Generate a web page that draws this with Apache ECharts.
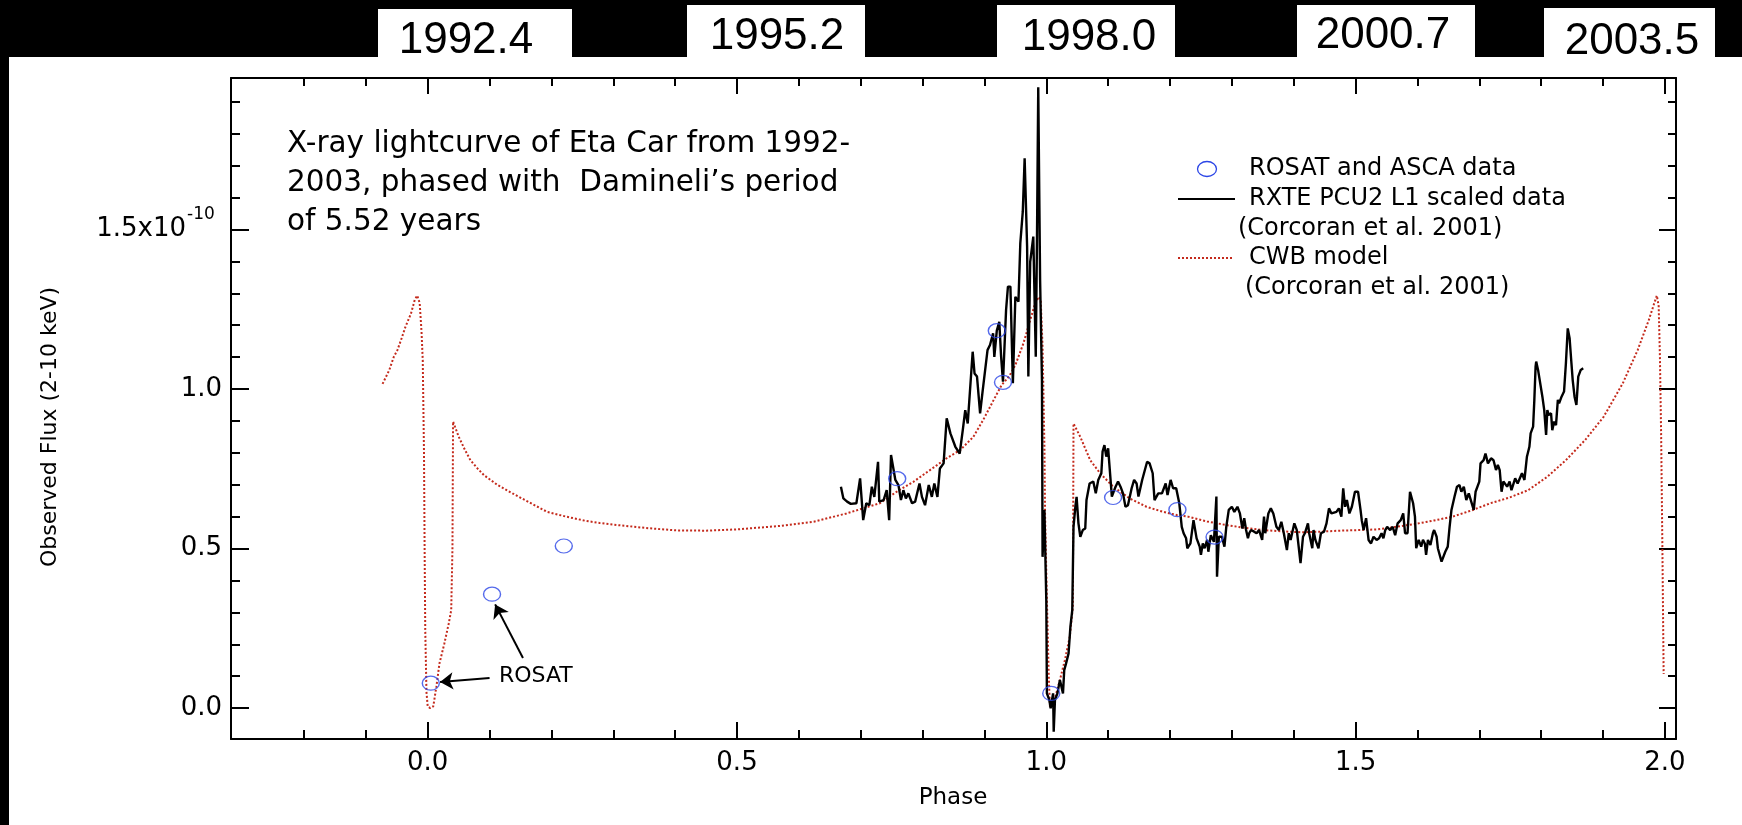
<!DOCTYPE html>
<html><head><meta charset="utf-8">
<script src="https://cdn.jsdelivr.net/npm/echarts@6/dist/echarts.min.js"></script>
<style>html,body{margin:0;padding:0;background:#fff}#c{width:1742px;height:825px}</style>
</head><body><div id="c"></div>
<script>
// ---------------- data ----------------
const xMajorTicks = [0.0, 0.5, 1.0, 1.5, 2.0];
const xMinorTicks = [-0.2,-0.1,0.1,0.2,0.3,0.4,0.6,0.7,0.8,0.9,1.1,1.2,1.3,1.4,1.6,1.7,1.8,1.9];
const yMajorTicks = [0.0, 0.5, 1.0, 1.5];
const yMinorTicks = [0.1,0.2,0.3,0.4,0.6,0.7,0.8,0.9,1.1,1.2,1.3,1.4,1.6,1.7,1.8,1.9];
const yearLabels = ['1992.4','1995.2','1998.0','2000.7','2003.5'];

// ROSAT and ASCA data  [phase, flux (1e-10)]
const rosatAsca = [[0.005,0.078],[0.104,0.357],[0.220,0.508],[0.759,0.719],[0.920,1.183],[0.930,1.021],[1.008,0.046],[1.108,0.660],[1.212,0.622],[1.272,0.536]];

// RXTE PCU2 L1 scaled data
const rxte = [
[0.668,0.694],[0.672,0.657],[0.678,0.647],[0.684,0.640],[0.693,0.642],[0.699,0.720],[0.704,0.589],[0.709,0.642],[0.714,0.636],[0.718,0.694],
[0.722,0.662],[0.728,0.772],[0.730,0.647],[0.737,0.652],[0.742,0.683],[0.746,0.589],[0.749,0.793],[0.756,0.715],[0.761,0.699],[0.765,0.652],
[0.769,0.683],[0.773,0.657],[0.777,0.673],[0.783,0.642],[0.788,0.647],[0.795,0.704],[0.799,0.662],[0.804,0.636],[0.810,0.699],[0.815,0.662],
[0.819,0.704],[0.824,0.662],[0.828,0.751],[0.834,0.767],[0.839,0.908],[0.845,0.861],[0.853,0.819],[0.860,0.798],[0.865,0.871],[0.869,0.934],
[0.873,0.892],[0.881,1.117],[0.884,1.049],[0.888,1.039],[0.893,0.924],[0.897,0.992],[0.905,1.122],[0.909,1.138],[0.914,1.175],[0.916,1.101],
[0.920,1.183],[0.924,1.211],[0.927,1.101],[0.930,1.023],[0.935,1.248],[0.938,1.321],[0.942,1.321],[0.946,1.018],[0.950,1.289],[0.955,1.274],
[0.958,1.457],[0.962,1.556],[0.965,1.723],[0.969,1.446],[0.971,1.039],[0.974,1.399],[0.979,1.478],[0.983,1.101],[0.985,1.478],[0.987,1.946],
[0.990,1.342],[0.993,1.030],[0.994,0.474],[0.997,0.621],[1.000,0.339],[1.001,0.046],[1.005,0.025],[1.007,-0.001],[1.011,0.046],[1.012,-0.074],
[1.014,0.025],[1.018,0.046],[1.022,0.088],[1.027,0.046],[1.029,0.119],[1.032,0.140],[1.036,0.171],[1.039,0.255],[1.042,0.307],[1.044,0.568],
[1.047,0.631],[1.049,0.662],[1.052,0.579],[1.055,0.537],[1.059,0.558],[1.063,0.563],[1.065,0.652],[1.070,0.704],[1.076,0.710],[1.080,0.673],
[1.084,0.715],[1.089,0.736],[1.091,0.804],[1.094,0.824],[1.097,0.788],[1.100,0.814],[1.103,0.814],[1.106,0.663],[1.112,0.694],[1.116,0.710],
[1.120,0.694],[1.124,0.673],[1.128,0.631],[1.132,0.636],[1.138,0.689],[1.142,0.715],[1.146,0.704],[1.149,0.663],[1.155,0.715],[1.163,0.772],
[1.167,0.767],[1.172,0.736],[1.175,0.652],[1.181,0.673],[1.187,0.673],[1.193,0.704],[1.196,0.668],[1.201,0.715],[1.205,0.689],[1.210,0.689],
[1.215,0.642],[1.219,0.568],[1.222,0.548],[1.226,0.532],[1.228,0.501],[1.233,0.516],[1.238,0.589],[1.240,0.595],[1.243,0.532],[1.248,0.506],
[1.250,0.480],[1.253,0.516],[1.256,0.501],[1.260,0.527],[1.262,0.490],[1.266,0.542],[1.271,0.521],[1.274,0.516],[1.275,0.663],[1.276,0.412],
[1.279,0.537],[1.284,0.537],[1.288,0.506],[1.291,0.568],[1.295,0.621],[1.300,0.631],[1.304,0.615],[1.309,0.631],[1.313,0.610],[1.317,0.563],
[1.320,0.595],[1.323,0.558],[1.326,0.532],[1.328,0.548],[1.331,0.558],[1.336,0.553],[1.340,0.548],[1.344,0.558],[1.349,0.527],[1.352,0.600],
[1.354,0.548],[1.359,0.610],[1.363,0.626],[1.367,0.610],[1.372,0.568],[1.376,0.558],[1.380,0.584],[1.384,0.548],[1.389,0.495],[1.392,0.548],
[1.395,0.527],[1.401,0.579],[1.405,0.558],[1.411,0.454],[1.415,0.537],[1.418,0.548],[1.423,0.579],[1.425,0.548],[1.430,0.501],[1.432,0.558],
[1.435,0.527],[1.440,0.501],[1.444,0.548],[1.449,0.553],[1.453,0.579],[1.457,0.626],[1.461,0.610],[1.464,0.615],[1.469,0.615],[1.473,0.626],
[1.477,0.600],[1.480,0.689],[1.483,0.631],[1.486,0.652],[1.490,0.610],[1.494,0.631],[1.499,0.678],[1.504,0.678],[1.508,0.621],[1.510,0.589],
[1.513,0.558],[1.517,0.595],[1.521,0.527],[1.525,0.516],[1.529,0.537],[1.534,0.527],[1.538,0.532],[1.542,0.548],[1.545,0.532],[1.548,0.558],
[1.551,0.568],[1.556,0.558],[1.560,0.568],[1.564,0.542],[1.568,0.579],[1.573,0.589],[1.577,0.610],[1.580,0.548],[1.584,0.548],[1.588,0.678],
[1.593,0.642],[1.596,0.600],[1.598,0.501],[1.602,0.527],[1.606,0.506],[1.609,0.527],[1.612,0.516],[1.614,0.480],[1.617,0.527],[1.621,0.511],
[1.625,0.548],[1.627,0.558],[1.631,0.537],[1.633,0.501],[1.636,0.495],[1.639,0.459],[1.642,0.459],[1.645,0.490],[1.649,0.506],[1.652,0.568],
[1.655,0.621],[1.660,0.663],[1.664,0.694],[1.668,0.699],[1.671,0.678],[1.675,0.694],[1.679,0.652],[1.683,0.673],[1.687,0.647],[1.691,0.621],
[1.694,0.678],[1.697,0.678],[1.700,0.710],[1.702,0.767],[1.707,0.777],[1.710,0.798],[1.714,0.767],[1.719,0.783],[1.723,0.777],[1.727,0.746],
[1.730,0.762],[1.733,0.746],[1.736,0.678],[1.739,0.710],[1.742,0.704],[1.745,0.694],[1.749,0.710],[1.752,0.683],[1.754,0.678],[1.758,0.720],
[1.762,0.704],[1.765,0.710],[1.769,0.736],[1.773,0.715],[1.777,0.788],[1.781,0.819],[1.783,0.861],[1.787,0.882],[1.789,0.966],[1.791,1.070],
[1.792,1.086],[1.795,1.060],[1.798,1.065],[1.802,0.976],[1.805,0.934],[1.808,0.856],[1.810,0.934],[1.812,0.919],[1.816,0.924],[1.818,0.871],
[1.821,0.898],[1.824,0.887],[1.827,0.966],[1.829,0.955],[1.833,0.976],[1.837,0.992],[1.840,1.080],[1.843,1.190],[1.846,1.159],[1.849,1.080],
[1.851,1.028],[1.854,0.976],[1.857,0.950],[1.860,1.039],[1.862,1.034],[1.864,1.060],[1.868,1.065]
];

// CWB model
const cwbModel = [
[-0.073,1.016],[-0.062,1.060],[-0.055,1.100],[-0.049,1.122],[-0.042,1.160],[-0.036,1.195],[-0.027,1.237],[-0.021,1.279],[-0.017,1.293],[-0.013,1.270],
[-0.010,1.180],[-0.008,1.090],[-0.006,0.800],[-0.005,0.500],[-0.004,0.250],[-0.002,0.050],[0.000,0.005],[0.004,0.000],[0.009,0.005],[0.014,0.067],
[0.019,0.140],[0.027,0.203],[0.034,0.265],[0.038,0.307],[0.040,0.500],[0.041,0.898],[0.050,0.851],[0.060,0.810],[0.069,0.777],[0.080,0.752],
[0.091,0.730],[0.113,0.699],[0.137,0.673],[0.162,0.647],[0.193,0.615],[0.224,0.600],[0.255,0.587],[0.278,0.580],[0.300,0.575],[0.350,0.565],
[0.400,0.557],[0.450,0.556],[0.500,0.560],[0.570,0.571],[0.624,0.584],[0.677,0.610],[0.731,0.642],[0.758,0.678],[0.785,0.709],[0.812,0.746],
[0.839,0.783],[0.861,0.809],[0.882,0.850],[0.898,0.903],[0.915,0.966],[0.928,1.013],[0.940,1.040],[0.950,1.075],[0.963,1.143],[0.974,1.216],
[0.982,1.269],[0.988,1.289],[0.991,1.279],[0.994,1.133],[0.997,0.819],[0.998,0.610],[1.001,0.339],[1.004,0.100],[1.006,0.000],[1.010,0.010],
[1.014,0.030],[1.022,0.088],[1.030,0.150],[1.038,0.224],[1.043,0.318],[1.044,0.892],[1.055,0.850],[1.071,0.777],[1.087,0.736],[1.108,0.694],
[1.135,0.657],[1.162,0.631],[1.189,0.615],[1.211,0.605],[1.229,0.600],[1.260,0.585],[1.290,0.574],[1.320,0.565],[1.351,0.558],[1.380,0.554],
[1.413,0.551],[1.444,0.553],[1.474,0.556],[1.505,0.558],[1.535,0.560],[1.565,0.568],[1.596,0.577],[1.627,0.588],[1.657,0.600],[1.688,0.620],
[1.718,0.642],[1.749,0.660],[1.779,0.683],[1.810,0.725],[1.840,0.777],[1.871,0.840],[1.901,0.913],[1.932,1.018],[1.956,1.122],[1.974,1.216],
[1.983,1.270],[1.987,1.293],[1.990,1.260],[1.992,1.100],[1.994,0.850],[1.996,0.500],[1.998,0.107]
];

// ---------------- chart ----------------
const FONT = '"DejaVu Sans", sans-serif';
const XMIN = -0.318, XMAX = 2.018, YMIN = -0.097, YMAX = 1.975;
const BLUE = '#2b45e6', RED = '#c42a1c';

function xAxisDef(pos, ticks, len, showLine, showLabel) {
  return {
    type: 'value', position: pos, min: XMIN, max: XMAX,
    axisLine: { show: showLine, onZero: false, lineStyle: { color: '#000', width: 2 } },
    axisTick: { show: true, inside: true, length: len, customValues: ticks, lineStyle: { color: '#000', width: 2 } },
    axisLabel: showLabel ? { show: true, customValues: ticks, formatter: v => v.toFixed(1), color: '#000', fontSize: 26, fontFamily: FONT, margin: 11 } : { show: false },
    splitLine: { show: false }
  };
}
function yAxisDef(pos, ticks, len, showLine, showLabel) {
  return {
    type: 'value', position: pos, min: YMIN, max: YMAX,
    axisLine: { show: showLine, onZero: false, lineStyle: { color: '#000', width: 2 } },
    axisTick: { show: true, inside: true, length: len, customValues: ticks, lineStyle: { color: '#000', width: 2 } },
    axisLabel: showLabel ? {
      show: true, customValues: ticks, margin: 9,
      formatter: v => Math.abs(v - 1.5) < 1e-9 ? '{p|1.5x10}' : '{m|' + v.toFixed(1) + '}',
      rich: {
        m: { fontSize: 26, fontFamily: FONT, color: '#000' },
        p: { fontSize: 26, fontFamily: FONT, color: '#000', padding: [0, 36, 0, 0] }
      }
    } : { show: false },
    splitLine: { show: false }
  };
}

const graphics = [
  { type: 'rect', shape: { x: 0, y: 0, width: 1742, height: 57 }, style: { fill: '#000' }, z: 10 },
  { type: 'rect', shape: { x: 0, y: 0, width: 9, height: 825 }, style: { fill: '#000' }, z: 10 }
];
const boxes = [[378, 9, 194], [687, 5, 178], [997, 5, 178], [1297, 5, 178], [1544, 8, 171]];
const yearPos = [[466, 41], [777, 37], [1089, 38], [1383, 36], [1632, 42]];
boxes.forEach((b, i) => {
  graphics.push({ type: 'rect', shape: { x: b[0], y: b[1], width: b[2], height: 57 - b[1] }, style: { fill: '#fff' }, z: 11 });
  graphics.push({ type: 'text', x: yearPos[i][0], y: yearPos[i][1], z: 12,
    style: { text: yearLabels[i], font: '44px "Liberation Sans", Arial, sans-serif', fill: '#000', align: 'center', verticalAlign: 'middle', textAlign: 'center', textVerticalAlign: 'middle' } });
});
function txt(t, x, y, size, extra) {
  return Object.assign({ type: 'text', x: x, y: y, z: 20,
    style: { text: t, font: size + 'px ' + FONT, fill: '#000', align: 'left', verticalAlign: 'middle', textAlign: 'left', textVerticalAlign: 'middle' } }, extra || {});
}
graphics.push(txt('X-ray lightcurve of Eta Car from 1992-', 287, 144, 29.5));
graphics.push(txt('2003, phased with  Damineli\u2019s period', 287, 183, 29.5));
graphics.push(txt('of 5.52 years', 287, 222, 29.5));
// superscript of the 1.5 tick label
graphics.push(txt('-10', 187, 215, 17));
// legend
graphics.push({ type: 'ellipse', shape: { cx: 1207, cy: 169, rx: 9.5, ry: 7.5 }, style: { fill: 'none', stroke: BLUE, lineWidth: 1.3 }, z: 20 });
graphics.push(txt('ROSAT and ASCA data', 1249, 169, 24));
graphics.push({ type: 'line', shape: { x1: 1178, y1: 199, x2: 1235, y2: 199 }, style: { stroke: '#000', lineWidth: 2 }, z: 20 });
graphics.push(txt('RXTE PCU2 L1 scaled data', 1249, 199, 24));
graphics.push(txt('(Corcoran et al. 2001)', 1238, 229, 24));
graphics.push({ type: 'line', shape: { x1: 1178, y1: 258, x2: 1233, y2: 258 }, style: { stroke: RED, lineWidth: 2, lineDash: [2, 2] }, z: 20 });
graphics.push(txt('CWB model', 1249, 258, 24));
graphics.push(txt('(Corcoran et al. 2001)', 1245, 288, 24));
// annotation + axis names
graphics.push(txt('ROSAT', 499, 676, 22));
graphics.push(txt('Phase', 953, 798, 23, { style: { text: 'Phase', font: '23px ' + FONT, fill: '#000', align: 'center', verticalAlign: 'middle', textAlign: 'center', textVerticalAlign: 'middle' } }));
graphics.push({ type: 'text', x: 50, y: 427, rotation: Math.PI / 2, z: 20,
  style: { text: 'Observed Flux (2-10 keV)', font: '22px ' + FONT, fill: '#000', align: 'center', verticalAlign: 'middle', textAlign: 'center', textVerticalAlign: 'middle' } });

const chart = echarts.init(document.getElementById('c'), null, { renderer: 'canvas' });
chart.setOption({
  animation: false,
  backgroundColor: '#fff',
  grid: { left: 231, top: 78, width: 1445, height: 661, show: false },
  xAxis: [
    xAxisDef('bottom', xMajorTicks, 17, true, true),
    xAxisDef('bottom', xMinorTicks, 9, false, false),
    xAxisDef('top', xMajorTicks, 16, true, false),
    xAxisDef('top', xMinorTicks, 8, false, false)
  ],
  yAxis: [
    yAxisDef('left', yMajorTicks, 18, true, true),
    yAxisDef('left', yMinorTicks, 9, false, false),
    yAxisDef('right', yMajorTicks, 17, true, false),
    yAxisDef('right', yMinorTicks, 8, false, false)
  ],
  series: [
    { type: 'line', name: 'CWB model', data: cwbModel, xAxisIndex: 0, yAxisIndex: 0, symbol: 'none', showSymbol: false,
      lineStyle: { color: RED, width: 2, type: [2, 2] }, z: 2, silent: true },
    { type: 'line', name: 'RXTE PCU2 L1 scaled data', data: rxte, xAxisIndex: 0, yAxisIndex: 0, symbol: 'none', showSymbol: false,
      lineStyle: { color: '#000', width: 2.4 }, z: 3, silent: true },
    { type: 'scatter', name: 'ROSAT and ASCA data', data: rosatAsca, xAxisIndex: 0, yAxisIndex: 0, symbol: 'circle', symbolSize: [17, 14],
      itemStyle: { color: 'rgba(0,0,0,0)', borderColor: BLUE, borderWidth: 1.3 }, z: 4, silent: true,
      markLine: { silent: true, symbol: ['none', 'arrow'], symbolSize: 13, label: { show: false },
        lineStyle: { color: '#000', width: 2, type: 'solid' },
        data: [
          [{ coord: [0.100, 0.094] }, { coord: [0.020, 0.082] }],
          [{ coord: [0.154, 0.157] }, { coord: [0.109, 0.325] }]
        ] } }
  ],
  graphic: graphics
});
</script></body></html>
